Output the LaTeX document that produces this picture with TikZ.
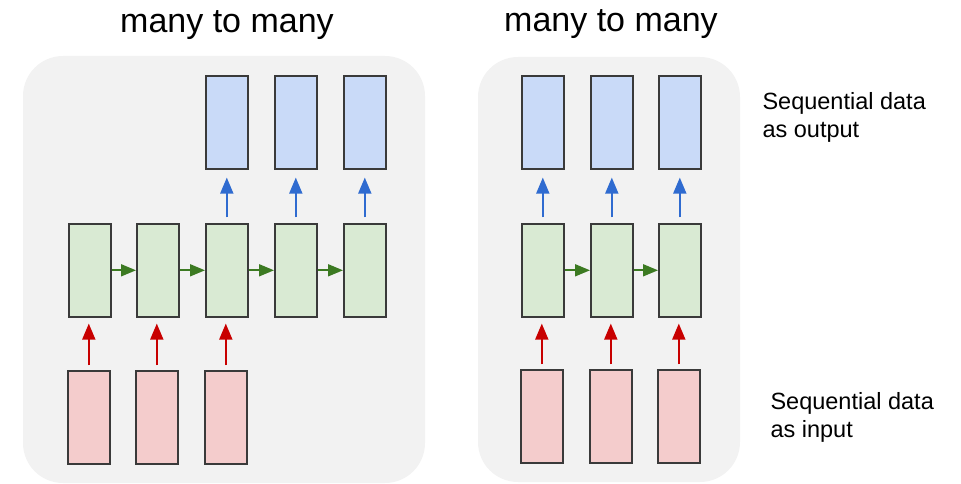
\documentclass[tikz,border=0pt]{standalone}
\usepackage{fontspec}
\setmainfont{Liberation Sans}
\usetikzlibrary{arrows.meta}
\definecolor{panelgray}{HTML}{F2F2F2}
\definecolor{bluefill}{HTML}{C9DAF8}
\definecolor{greenfill}{HTML}{D9EAD3}
\definecolor{redfill}{HTML}{F4CCCC}
\definecolor{boxline}{HTML}{3A3A3A}
\definecolor{bluearrow}{HTML}{2F6BD0}
\definecolor{greenarrow}{HTML}{3C7A22}
\definecolor{redarrow}{HTML}{C80000}
\tikzset{
  panel/.style={fill=panelgray,draw=none,rounded corners=40pt},
  cell/.style={draw=boxline,line width=1.6pt,minimum width=42pt,minimum height=93pt,inner sep=0pt,anchor=north west},
  outcell/.style={cell,fill=bluefill},
  hidcell/.style={cell,fill=greenfill},
  incell/.style={cell,fill=redfill},
  arr/.style={line width=1.8pt,-{Triangle[width=13pt,length=16pt]}},
  uparr/.style={arr,draw=bluearrow,fill=bluearrow,shorten <=6pt,shorten >=8pt},
  rarr/.style={arr,draw=greenarrow,fill=greenarrow,-{Triangle[width=12pt,length=15pt]}},
  inarr/.style={arr,draw=redarrow,fill=redarrow,shorten <=5pt,shorten >=6pt},
  title/.style={font=\fontsize{34}{40}\selectfont,anchor=base},
  lbl/.style={font=\fontsize{23.5}{28}\selectfont,anchor=base west,align=left}
}
\begin{document}
\begin{tikzpicture}[x=1pt,y=-1pt]
\useasboundingbox (0,0) rectangle (961,484);
% panels
\path[panel] (23,56) rectangle (425,483);
\path[panel] (478,57) rectangle (740,482);
% titles
\node[title] (t1) at (227,33) {many to many};
\node[title] (t2) at (611,32) {many to many};
% left panel
\node[outcell] (lb3) at (205,75) {};
\node[outcell] (lb4) at (274,75) {};
\node[outcell] (lb5) at (343,75) {};
\node[hidcell] (lg1) at (68,223) {};
\node[hidcell] (lg2) at (136,223) {};
\node[hidcell] (lg3) at (205,223) {};
\node[hidcell] (lg4) at (274,223) {};
\node[hidcell] (lg5) at (343,223) {};
\node[incell] (lr1) at (67,370) {};
\node[incell] (lr2) at (135,370) {};
\node[incell] (lr3) at (204,370) {};
\draw[uparr] (lg3.north) -- (lb3.south);
\draw[uparr] (lg4.north) -- (lb4.south);
\draw[uparr] (lg5.north) -- (lb5.south);
\draw[rarr] (lg1.east) -- (lg2.west);
\draw[rarr] (lg2.east) -- (lg3.west);
\draw[rarr] (lg3.east) -- (lg4.west);
\draw[rarr] (lg4.east) -- (lg5.west);
\draw[inarr] (lr1.north) -- (lr1.north |- lg1.south);
\draw[inarr] (lr2.north) -- (lr2.north |- lg2.south);
\draw[inarr] (lr3.north) -- (lr3.north |- lg3.south);
% right panel
\node[outcell] (rb1) at (521,75) {};
\node[outcell] (rb2) at (590,75) {};
\node[outcell] (rb3) at (658,75) {};
\node[hidcell] (rg1) at (521,223) {};
\node[hidcell] (rg2) at (590,223) {};
\node[hidcell] (rg3) at (658,223) {};
\node[incell] (rr1) at (520,369) {};
\node[incell] (rr2) at (589,369) {};
\node[incell] (rr3) at (657,369) {};
\draw[uparr] (rg1.north) -- (rb1.south);
\draw[uparr] (rg2.north) -- (rb2.south);
\draw[uparr] (rg3.north) -- (rb3.south);
\draw[rarr] (rg1.east) -- (rg2.west);
\draw[rarr] (rg2.east) -- (rg3.west);
\draw[inarr] (rr1.north) -- (rr1.north |- rg1.south);
\draw[inarr] (rr2.north) -- (rr2.north |- rg2.south);
\draw[inarr] (rr3.north) -- (rr3.north |- rg3.south);
% labels
\node[lbl] (lout) at (759,138) {Sequential data\\as output};
\node[lbl] (lin) at (767,437) {Sequential data\\as input};
\end{tikzpicture}
\end{document}
